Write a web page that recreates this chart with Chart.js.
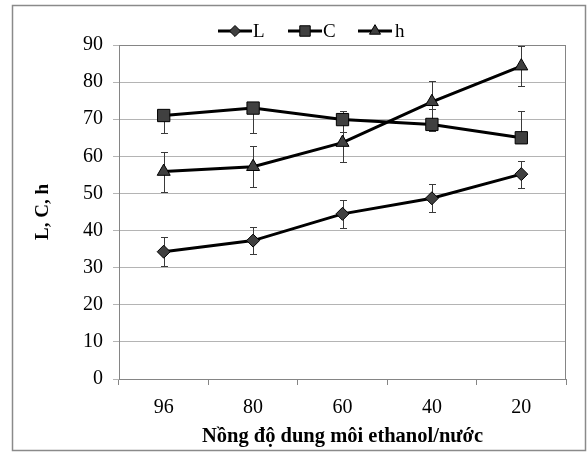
<!DOCTYPE html>
<html><head><meta charset="utf-8">
<script src="https://cdn.jsdelivr.net/npm/chart.js@4"></script>
<style>html,body{margin:0;padding:0;background:#fff}</style>
</head><body>
<canvas id="c" width="587" height="453" style="width:587px;height:453px;display:block"></canvas>
<script>
const categories = ['96', '80', '60', '40', '20'];
const seriesNames = ['L', 'C', 'h'];
const valuesL = [34.3, 37.3, 44.5, 48.7, 55.2];
const valuesC = [71.0, 73.0, 69.9, 68.6, 65.0];
const valuesH = [55.9, 57.2, 63.7, 74.7, 84.3];
const errPlusL = [3.9, 3.7, 3.7, 3.8, 3.6];
const errMinusL = [3.9, 3.7, 3.7, 3.8, 3.7];
const errPlusC = [0, 0, 2.3, 4.2, 7.3];
const errMinusC = [4.6, 6.6, 3.4, 1.9, 0];
const errPlusH = [5.3, 5.6, 5.1, 5.7, 5.5];
const errMinusH = [5.6, 5.4, 5.1, 5.7, 5.3];
const yTickMin = 0, yTickMax = 90, yTickStep = 10;
const xTitle = 'Nồng độ dung môi ethanol/nước';
const yTitle = 'L, C, h';

const SERIF = "'Liberation Serif', 'Times New Roman', serif";
const markerStyles = [
  {pointStyle: 'rectRot', radius: 6.5},
  {pointStyle: 'rect', radius: 8.7},
  {pointStyle: 'triangle', radius: 7.5}
];
const errPlus = [errPlusL, errPlusC, errPlusH];
const errMinus = [errMinusL, errMinusC, errMinusH];

function makeDataset(label, data, m) {
  return {
    label, data,
    borderColor: '#000', borderWidth: 3, tension: 0, fill: false,
    pointStyle: m.pointStyle, pointRadius: m.radius, pointHoverRadius: m.radius,
    pointBackgroundColor: '#404040', pointBorderColor: '#000', pointBorderWidth: 1
  };
}

const errorBarPlugin = {
  id: 'errorBars',
  beforeDatasetsDraw(chart) {
    const ctx = chart.ctx, y = chart.scales.y;
    ctx.save();
    ctx.strokeStyle = '#3a3a3a';
    ctx.lineWidth = 1;
    chart.data.datasets.forEach((ds, di) => {
      const meta = chart.getDatasetMeta(di);
      meta.data.forEach((pt, i) => {
        const v = ds.data[i];
        const segs = [];
        if (errPlus[di][i] > 0) segs.push(v + errPlus[di][i]);
        if (errMinus[di][i] > 0) segs.push(v - errMinus[di][i]);
        const x = Math.round(pt.x) + 0.5, yc = y.getPixelForValue(v);
        segs.forEach(e => {
          const ye = Math.round(y.getPixelForValue(e)) + 0.5;
          ctx.beginPath();
          ctx.moveTo(x, yc); ctx.lineTo(x, ye);
          ctx.moveTo(x - 3.5, ye); ctx.lineTo(x + 3.5, ye);
          ctx.stroke();
        });
      });
    });
    const a = chart.chartArea;
    ctx.strokeStyle = '#858585';
    ctx.lineWidth = 1;
    ctx.strokeRect(Math.round(a.left) + 0.5, Math.round(a.top) + 0.5, Math.round(a.right - a.left) - 1, Math.round(a.bottom - a.top));
    ctx.restore();
  },
  afterDraw(chart) {
    const ctx = chart.ctx;
    ctx.save();
    ctx.strokeStyle = '#8a8a8a';
    ctx.lineWidth = 1.5;
    ctx.strokeRect(12.5, 5.5, 573, 445);
    const items = [{x: 218, tx: 253}, {x: 288, tx: 323}, {x: 358, tx: 395}];
    const ly = 31;
    items.forEach((it, i) => {
      ctx.strokeStyle = '#000';
      ctx.lineWidth = 3;
      ctx.beginPath();
      ctx.moveTo(it.x, ly); ctx.lineTo(it.x + 34, ly);
      ctx.stroke();
      ctx.fillStyle = '#404040';
      ctx.strokeStyle = '#000';
      ctx.lineWidth = 1;
      const m = markerStyles[i];
      Chart.helpers.drawPoint(ctx, {pointStyle: m.pointStyle, radius: m.radius * 0.85, rotation: 0, borderWidth: 1}, it.x + 17, ly);
      ctx.fillStyle = '#000';
      ctx.font = '19px ' + SERIF;
      ctx.textBaseline = 'middle';
      ctx.textAlign = 'left';
      ctx.fillText(seriesNames[i], it.tx, ly + 1);
    });
    ctx.restore();
  }
};

new Chart(document.getElementById('c'), {
  type: 'line',
  data: {
    labels: categories,
    datasets: [
      makeDataset(seriesNames[0], valuesL, markerStyles[0]),
      makeDataset(seriesNames[1], valuesC, markerStyles[1]),
      makeDataset(seriesNames[2], valuesH, markerStyles[2])
    ]
  },
  options: {
    responsive: false,
    animation: false,
    devicePixelRatio: 1,
    layout: {padding: {left: 12, right: 21, top: 45, bottom: 3}},
    plugins: {legend: {display: false}, tooltip: {enabled: false}},
    scales: {
      x: {
        type: 'category',
        offset: true,
        grid: {offset: true, drawOnChartArea: false, drawTicks: true, tickLength: 6, color: '#858585'},
        border: {color: '#858585', width: 1},
        ticks: {color: '#000', font: {family: SERIF, size: 20}, padding: 11, maxRotation: 0},
        title: {display: true, text: xTitle, color: '#000', font: {family: SERIF, size: 20.5, weight: 'bold'}, padding: {top: 2, bottom: 1}},
        afterFit: s => { s.height = 71; }
      },
      y: {
        min: yTickMin, max: yTickMax,
        ticks: {stepSize: yTickStep, color: '#000', font: {family: SERIF, size: 20}, padding: 10},
        grid: {color: '#b4b4b4', tickLength: 6, lineWidth: 1},
        border: {color: '#858585', width: 1},
        title: {display: true, text: yTitle, color: '#000', font: {family: SERIF, size: 19, weight: 'bold'}, padding: {top: 20, bottom: 4}},
        afterFit: s => { s.width = 107; }
      }
    }
  },
  plugins: [errorBarPlugin]
});
</script>
</body></html>
